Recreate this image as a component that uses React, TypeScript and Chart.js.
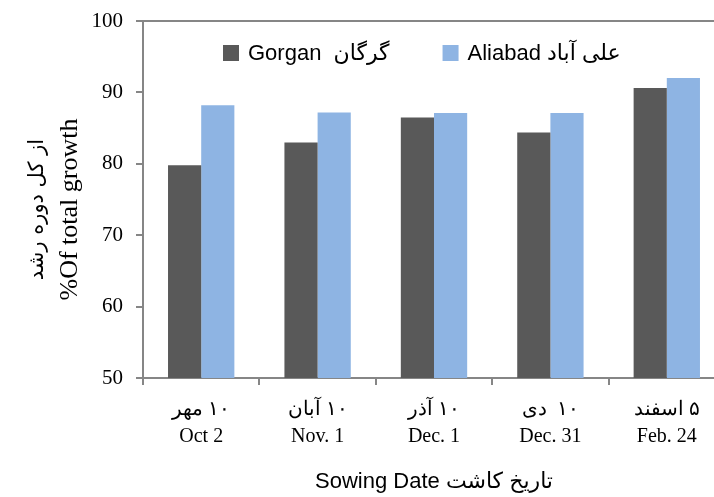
import React, { useEffect, useRef } from "react";
import { Chart, registerables } from "chart.js";

Chart.register(...registerables);

const categoriesFa = ["۱۰ مهر", "۱۰ آبان", "۱۰ آذر", "۱۰  دی", "۵ اسفند"];
const categoriesEn = ["Oct 2", "Nov. 1", "Dec. 1", "Dec. 31", "Feb. 24"];
const gorganValues = [79.8, 83.0, 86.5, 84.4, 90.6];
const aliabadValues = [88.2, 87.2, 87.1, 87.1, 92.0];
const seriesNames = ["Gorgan  گرگان", "Aliabad علی آباد"];
const seriesColors = ["#595959", "#8EB4E3"];
const yTitleEn = "%Of total growth";
const yTitleFa = "از کل دوره رشد";
const xTitle = "Sowing Date تاریخ کاشت";
const yMin = 50;
const yMax = 100;
const yStep = 10;

const AXIS_GRAY = "#868686";
const RLM = "\u200F";

const legendPlugin = {
  id: "insideLegend",
  afterDraw(chart: any) {
    const ctx = chart.ctx;
    const area = chart.chartArea;
    ctx.save();
    ctx.font = '22px "Liberation Sans", "DejaVu Sans", sans-serif';
    ctx.textBaseline = "middle";
    ctx.textAlign = "left";
    const y = 53;
    let x = area.left + 80;
    chart.data.datasets.forEach((ds: any) => {
      ctx.fillStyle = ds.backgroundColor;
      ctx.fillRect(x, y - 8, 16, 16);
      ctx.fillStyle = "#000";
      ctx.fillText(ds.label, x + 25, y + 1);
      x += 25 + ctx.measureText(ds.label).width + 53;
    });
    ctx.restore();
  },
};

const yTitlePlugin = {
  id: "yTitles",
  afterDraw(chart: any) {
    const ctx = chart.ctx;
    const area = chart.chartArea;
    const cy = (area.top + area.bottom) / 2 + 10;
    ctx.save();
    ctx.translate(70, cy);
    ctx.rotate(-Math.PI / 2);
    ctx.textAlign = "center";
    ctx.textBaseline = "middle";
    ctx.fillStyle = "#000";
    ctx.font = '26px "Liberation Serif", serif';
    ctx.fillText(yTitleEn, 0, 0);
    ctx.font = '21px "DejaVu Sans", sans-serif';
    ctx.fillText(yTitleFa, 0, -32);
    ctx.restore();
  },
};

export default function App() {
  const ref = useRef<HTMLCanvasElement | null>(null);

  useEffect(() => {
    if (!ref.current) return;
    const chart = new Chart(ref.current, {
      type: "bar",
      data: {
        labels: categoriesFa.map((fa, i) => [RLM + fa, categoriesEn[i]]),
        datasets: [
          {
            label: seriesNames[0],
            data: gorganValues,
            backgroundColor: seriesColors[0],
            categoryPercentage: 0.57,
            barPercentage: 1,
          },
          {
            label: seriesNames[1],
            data: aliabadValues,
            backgroundColor: seriesColors[1],
            categoryPercentage: 0.57,
            barPercentage: 1,
          },
        ],
      },
      options: {
        animation: false,
        responsive: true,
        maintainAspectRatio: false,
        layout: { padding: { top: 21, right: 5, left: 0, bottom: 0 } },
        plugins: {
          legend: { display: false },
          tooltip: { enabled: false },
        },
        scales: {
          x: {
            grid: {
              offset: true,
              drawOnChartArea: false,
              color: AXIS_GRAY,
              tickColor: AXIS_GRAY,
              tickLength: 7,
              lineWidth: 2,
            },
            border: { color: AXIS_GRAY, width: 2 },
            ticks: {
              color: "#000",
              padding: 11,
              maxRotation: 0,
              font: { family: '"Liberation Serif", serif', size: 20, lineHeight: 1.35 },
            },
            title: {
              display: true,
              text: xTitle,
              color: "#000",
              font: { family: '"Liberation Sans", "DejaVu Sans", sans-serif', size: 22 },
              padding: { top: 0, bottom: 2 },
            },
            afterFit: (scale: any) => {
              scale.height = 119;
              scale.paddingLeft = 0;
              scale.paddingRight = 0;
            },
          },
          y: {
            min: yMin,
            max: yMax,
            grid: {
              color: (c: any) => (c.tick && c.tick.value === yMax ? AXIS_GRAY : "rgba(0,0,0,0)"),
              tickColor: AXIS_GRAY,
              tickLength: 7,
              lineWidth: 2,
            },
            border: { color: AXIS_GRAY, width: 2 },
            ticks: {
              stepSize: yStep,
              color: "#000",
              padding: 13,
              font: { family: '"Liberation Serif", serif', size: 21 },
            },
            afterFit: (scale: any) => {
              scale.width = 143;
              scale.paddingTop = 0;
              scale.paddingBottom = 0;
            },
          },
        },
      },
      plugins: [legendPlugin, yTitlePlugin],
    });
    return () => chart.destroy();
  }, []);

  return (
    <div
      style={{
        position: "fixed",
        left: 0,
        top: 0,
        width: 714,
        height: 497,
        overflow: "hidden",
        background: "#fff",
      }}
    >
      <div style={{ position: "relative", width: 730, height: 497 }}>
        <canvas ref={ref} />
      </div>
    </div>
  );
}
